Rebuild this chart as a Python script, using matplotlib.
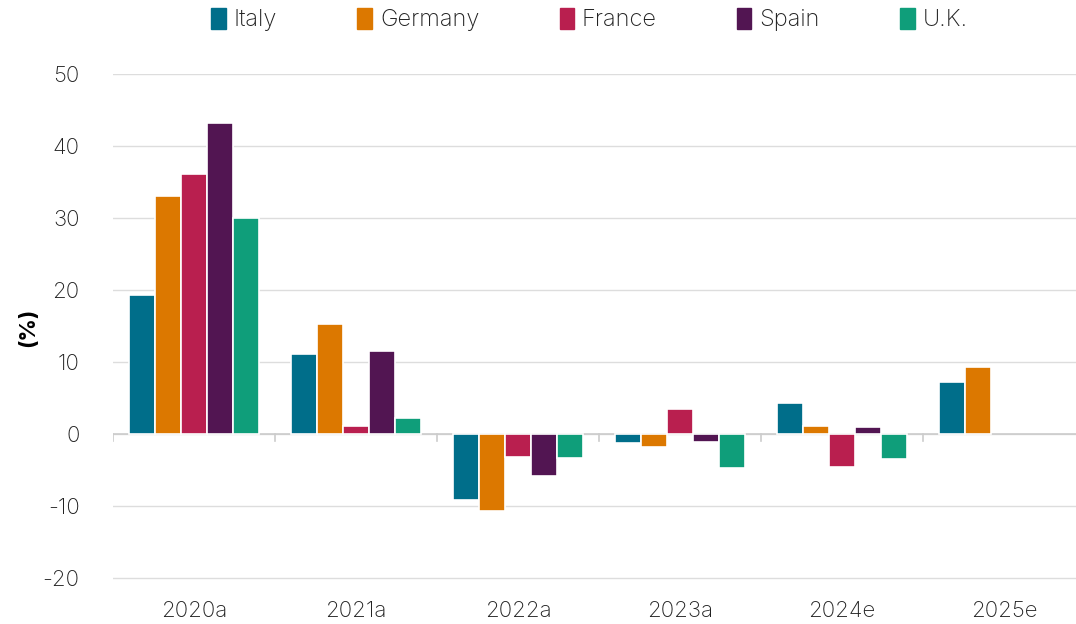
import matplotlib.pyplot as plt
import numpy as np
from matplotlib.patches import Patch

plt.rcParams['font.family'] = ['Inter', 'DejaVu Sans']
plt.rcParams['axes.unicode_minus'] = False

years = ['2020a', '2021a', '2022a', '2023a', '2024e', '2025e']
countries = ['Italy', 'Germany', 'France', 'Spain', 'U.K.']
colors = ['#006E8A', '#DC7800', '#B91F4F', '#521552', '#0F9E7A']

italy = [19.4, 11.1, -9.2, -1.2, 4.3, 7.3]
germany = [33.1, 15.3, -10.7, -1.8, 1.1, 9.3]
france = [36.1, 1.1, -3.1, 3.5, -4.6, np.nan]
spain = [43.3, 11.5, -5.8, -1.1, 1.0, np.nan]
uk = [30.0, 2.2, -3.3, -4.7, -3.5, np.nan]
series = [italy, germany, france, spain, uk]

fig = plt.figure(figsize=(10.76, 6.24), dpi=100)
ax = fig.add_axes([113/1076, 44/624, 972/1076, 506/624])

x = np.arange(len(years))
w = 0.16
for i, (vals, c) in enumerate(zip(series, colors)):
    ax.bar(x + (i - 2) * w, vals, width=w, color=c, edgecolor='white',
           linewidth=1.2, zorder=3, label=countries[i])

ax.set_xlim(-0.5, len(years) - 0.5)
ax.set_ylim(-20.25, 50.05)
ax.set_yticks(range(-20, 51, 10))
ax.grid(axis='y', color='#dddddd', linewidth=1, zorder=0)
ax.axhline(0, color='#cccccc', linewidth=1.2, zorder=2)
# small ticks on the zero line between groups
for b in np.arange(-0.5, len(years) - 0.5, 1):
    ax.plot([b, b], [0, -0.9], color='#cccccc', linewidth=1.2, zorder=2)

for s in ax.spines.values():
    s.set_visible(False)
ax.tick_params(axis='both', length=0, labelsize=16, colors='#222222')
ax.tick_params(axis='y', pad=24)
ax.tick_params(axis='x', pad=15)
ax.set_xticks(x)
ax.set_xticklabels(years)
for lbl in ax.get_yticklabels() + ax.get_xticklabels():
    lbl.set_fontweight('light')
ax.set_ylabel('(%)', fontsize=16, fontweight='bold')
ax.yaxis.set_label_coords(-0.077, 0.5)

handles = [Patch(color=c) for c in colors]
leg = fig.legend(handles, countries, loc='upper center', bbox_to_anchor=(0.548, 1.022),
                 ncol=5, frameon=False, fontsize=17, handlelength=0.6, handleheight=1.0,
                 handletextpad=0.35, columnspacing=3.4, labelcolor='#222222')
for t in leg.get_texts():
    t.set_fontweight('light')

plt.savefig('out.png', dpi=100)
